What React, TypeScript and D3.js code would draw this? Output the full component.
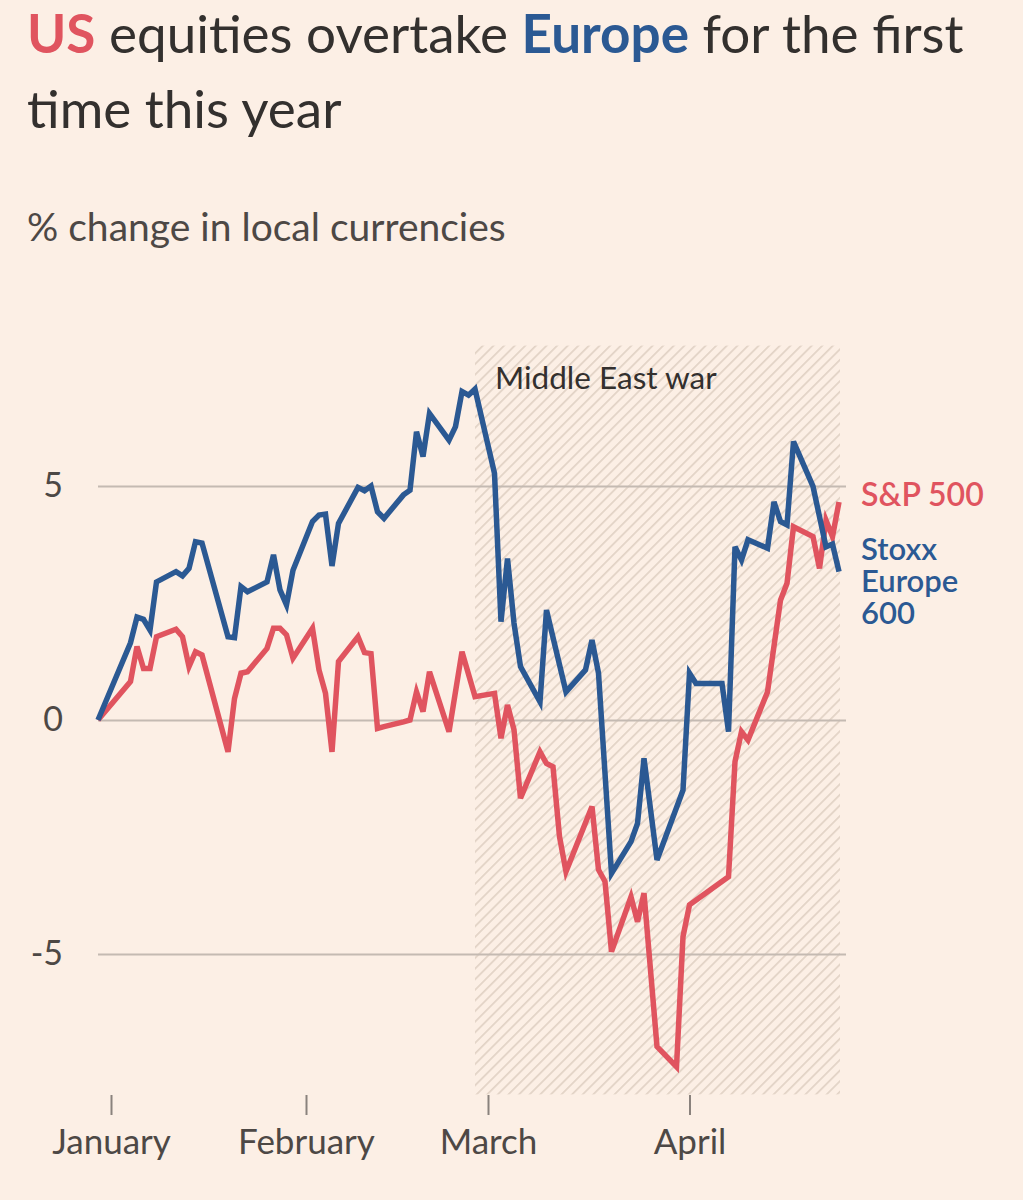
import React, { useEffect, useRef } from "react"
import * as d3 from "d3"

// % change since end of 2025
const stoxxDates = [
  "2025-12-31", "2026-01-05", "2026-01-06", "2026-01-07", "2026-01-08", "2026-01-09",
  "2026-01-12", "2026-01-13", "2026-01-14", "2026-01-15", "2026-01-16",
  "2026-01-20", "2026-01-21", "2026-01-22", "2026-01-23",
  "2026-01-26", "2026-01-27", "2026-01-28", "2026-01-29", "2026-01-30",
  "2026-02-02", "2026-02-03", "2026-02-04", "2026-02-05", "2026-02-06",
  "2026-02-09", "2026-02-10", "2026-02-11", "2026-02-12", "2026-02-13",
  "2026-02-16", "2026-02-17", "2026-02-18", "2026-02-19", "2026-02-20",
  "2026-02-23", "2026-02-24", "2026-02-25", "2026-02-26", "2026-02-27",
  "2026-03-02", "2026-03-03", "2026-03-04", "2026-03-05", "2026-03-06",
  "2026-03-09", "2026-03-10", "2026-03-13",
  "2026-03-16", "2026-03-17", "2026-03-18", "2026-03-20",
  "2026-03-23", "2026-03-24", "2026-03-25", "2026-03-27",
  "2026-03-31", "2026-04-01", "2026-04-02",
  "2026-04-06", "2026-04-07", "2026-04-08", "2026-04-09", "2026-04-10",
  "2026-04-13", "2026-04-14", "2026-04-15", "2026-04-16", "2026-04-17",
  "2026-04-20", "2026-04-22", "2026-04-23", "2026-04-24",
]
const stoxxValues = [
  0, 1.65, 2.2, 2.15, 1.92, 2.95,
  3.17, 3.08, 3.24, 3.81, 3.78,
  1.78, 1.76, 2.85, 2.74,
  2.95, 3.53, 2.78, 2.46, 3.2,
  4.24, 4.38, 4.4, 3.29, 4.2,
  4.97, 4.9, 5.0, 4.45, 4.31,
  4.81, 4.91, 6.16, 5.63, 6.55,
  5.98, 6.27, 7.02, 6.94, 7.07,
  5.27, 2.1, 3.45, 2.07, 1.14,
  0.39, 2.35, 0.6,
  1.07, 1.71, 1.0, -3.28,
  -2.6, -2.21, -0.82, -2.99,
  -1.5, 1.0, 0.78,
  0.78, -0.25, 3.7, 3.42, 3.85,
  3.67, 4.66, 4.24, 4.17, 5.95,
  4.99, 3.7, 3.76, 3.17,
]

const spxDates = [
  "2025-12-31", "2026-01-05", "2026-01-06", "2026-01-07", "2026-01-08", "2026-01-09",
  "2026-01-12", "2026-01-13", "2026-01-14", "2026-01-15", "2026-01-16",
  "2026-01-20", "2026-01-21", "2026-01-22", "2026-01-23",
  "2026-01-26", "2026-01-27", "2026-01-28", "2026-01-29", "2026-01-30",
  "2026-02-02", "2026-02-03", "2026-02-04", "2026-02-05", "2026-02-06",
  "2026-02-09", "2026-02-10", "2026-02-11", "2026-02-12", "2026-02-13",
  "2026-02-16", "2026-02-17", "2026-02-18", "2026-02-19", "2026-02-20",
  "2026-02-23", "2026-02-25", "2026-02-27",
  "2026-03-02", "2026-03-03", "2026-03-04", "2026-03-05", "2026-03-06",
  "2026-03-09", "2026-03-10", "2026-03-11", "2026-03-12", "2026-03-13",
  "2026-03-17", "2026-03-18", "2026-03-19", "2026-03-20",
  "2026-03-23", "2026-03-24", "2026-03-25", "2026-03-27",
  "2026-03-30", "2026-03-31", "2026-04-01",
  "2026-04-07", "2026-04-08", "2026-04-09", "2026-04-10",
  "2026-04-13", "2026-04-15", "2026-04-16", "2026-04-17",
  "2026-04-20", "2026-04-21", "2026-04-22", "2026-04-23", "2026-04-24",
]
const spxValues = [
  0, 0.82, 1.57, 1.1, 1.1, 1.78,
  1.94, 1.78, 1.14, 1.46, 1.39,
  -0.68, 0.46, 1.0, 1.03,
  1.53, 1.96, 1.96, 1.82, 1.32,
  1.96, 1.07, 0.57, -0.68, 1.25,
  1.78, 1.44, 1.42, -0.18, -0.14,
  -0.04, 0.0, 0.6, 0.18, 1.03,
  -0.25, 1.46, 0.5,
  0.57, -0.39, 0.32, -0.21, -1.67,
  -0.68, -0.93, -1.0, -2.49, -3.24,
  -1.85, -3.2, -3.45, -4.95,
  -3.78, -4.31, -3.7, -6.98,
  -7.41, -4.63, -3.95,
  -3.35, -0.89, -0.25, -0.43,
  0.6, 2.56, 2.92, 4.13,
  3.92, 3.24, 4.27, 3.92, 4.66,
]

const yTicks = [-5, 0, 5]
const monthTicks = ["2026-01-02", "2026-02-01", "2026-03-01", "2026-04-01"]
const warStart = "2026-02-27"

const RED = "#e0545f"
const BLUE = "#2b5993"
const FONT = "Lato, 'Noto Sans', sans-serif"

const parse = d3.timeParse("%Y-%m-%d")

const App = () => {
  const ref = useRef(null)

  useEffect(() => {
    const svg = d3.select(ref.current)
    svg.selectAll("*").remove()

    const width = 1023
    const height = 1200

    const x = d3.scaleTime()
      .domain([parse("2025-12-31"), parse("2026-04-24")])
      .range([98, 839])

    const y = d3.scaleLinear()
      .domain([-8, 8])
      .range([1094.4, 345.6])

    const stoxx = stoxxDates.map((d, i) => ({ date: parse(d), value: stoxxValues[i] }))
    const spx = spxDates.map((d, i) => ({ date: parse(d), value: spxValues[i] }))

    svg.append("rect")
      .attr("width", width)
      .attr("height", height)
      .attr("fill", "#fcefe5")

    // hatch pattern for the war period
    const defs = svg.append("defs")
    const pattern = defs.append("pattern")
      .attr("id", "hatch")
      .attr("patternUnits", "userSpaceOnUse")
      .attr("width", 7.5)
      .attr("height", 7.5)
      .attr("patternTransform", "rotate(45)")
    pattern.append("line")
      .attr("x1", 0).attr("y1", 0)
      .attr("x2", 0).attr("y2", 7.5)
      .attr("stroke", "#e2d3c6")
      .attr("stroke-width", 3.5)

    // title
    const title = svg.append("text")
      .attr("font-family", FONT)
      .attr("font-size", 53)
      .attr("fill", "#33302e")
    const line1 = title.append("tspan").attr("x", 27).attr("y", 53)
    line1.append("tspan").attr("fill", RED).attr("font-weight", 700).text("US")
    line1.append("tspan").text(" equities overtake ")
    line1.append("tspan").attr("fill", BLUE).attr("font-weight", 700).text("Europe")
    line1.append("tspan").text(" for the first")
    title.append("tspan").attr("x", 27).attr("y", 128).text("time this year")

    svg.append("text")
      .attr("x", 27)
      .attr("y", 241)
      .attr("font-family", FONT)
      .attr("font-size", 39)
      .attr("fill", "#4d4845")
      .text("% change in local currencies")

    svg.append("rect")
      .attr("x", x(parse(warStart)))
      .attr("y", y(8))
      .attr("width", x.range()[1] + 1 - x(parse(warStart)))
      .attr("height", y(-8) - y(8))
      .attr("fill", "url(#hatch)")

    svg.append("text")
      .attr("x", 495)
      .attr("y", 389)
      .attr("font-family", FONT)
      .attr("font-size", 31.5)
      .attr("fill", "#33302e")
      .text("Middle East war")

    // y axis with gridlines
    const yAxis = d3.axisLeft(y)
      .tickValues(yTicks)
      .tickSize(-(846 - 98))
      .tickPadding(35)
      .tickFormat(d => String(d))

    const yAxisG = svg.append("g")
      .attr("transform", `translate(98, 0)`)
      .call(yAxis)
    yAxisG.select(".domain").remove()
    yAxisG.selectAll("line")
      .attr("stroke", "#c4bab2")
      .attr("stroke-width", 2)
    yAxisG.selectAll("text")
      .attr("font-family", FONT)
      .attr("font-size", 34)
      .attr("fill", "#4d4845")

    // x axis
    const xAxis = d3.axisBottom(x)
      .tickValues(monthTicks.map(parse))
      .tickSize(20)
      .tickPadding(14)
      .tickFormat(d3.timeFormat("%B"))

    const xAxisG = svg.append("g")
      .attr("transform", `translate(0, 1095)`)
      .call(xAxis)
    xAxisG.select(".domain").remove()
    xAxisG.selectAll("line")
      .attr("stroke", "#8a827d")
      .attr("stroke-width", 2)
    xAxisG.selectAll("text")
      .attr("font-family", FONT)
      .attr("font-size", 35)
      .attr("fill", "#4d4845")

    const line = d3.line()
      .x(d => x(d.date))
      .y(d => y(d.value))

    svg.append("path")
      .datum(spx)
      .attr("d", line)
      .attr("fill", "none")
      .attr("stroke", RED)
      .attr("stroke-width", 5.5)
      .attr("stroke-linejoin", "miter")

    svg.append("path")
      .datum(stoxx)
      .attr("d", line)
      .attr("fill", "none")
      .attr("stroke", BLUE)
      .attr("stroke-width", 5.5)
      .attr("stroke-linejoin", "miter")

    // labels
    svg.append("text")
      .attr("x", 861)
      .attr("y", 506)
      .attr("font-family", FONT)
      .attr("font-size", 32)
      .attr("font-weight", 600)
      .attr("fill", RED)
      .text("S&P 500")

    const euro = svg.append("text")
      .attr("font-family", FONT)
      .attr("font-size", 31)
      .attr("font-weight", 600)
      .attr("fill", BLUE)
    ;["Stoxx", "Europe", "600"].forEach((t, i) => {
      euro.append("tspan").attr("x", 861).attr("y", 560 + i * 32).text(t)
    })
  }, [])

  return (
    <svg
      ref={ref}
      width={1023}
      height={1200}
      style={{ position: "absolute", left: 0, top: 0, display: "block" }}
    />
  )
}

export default App
